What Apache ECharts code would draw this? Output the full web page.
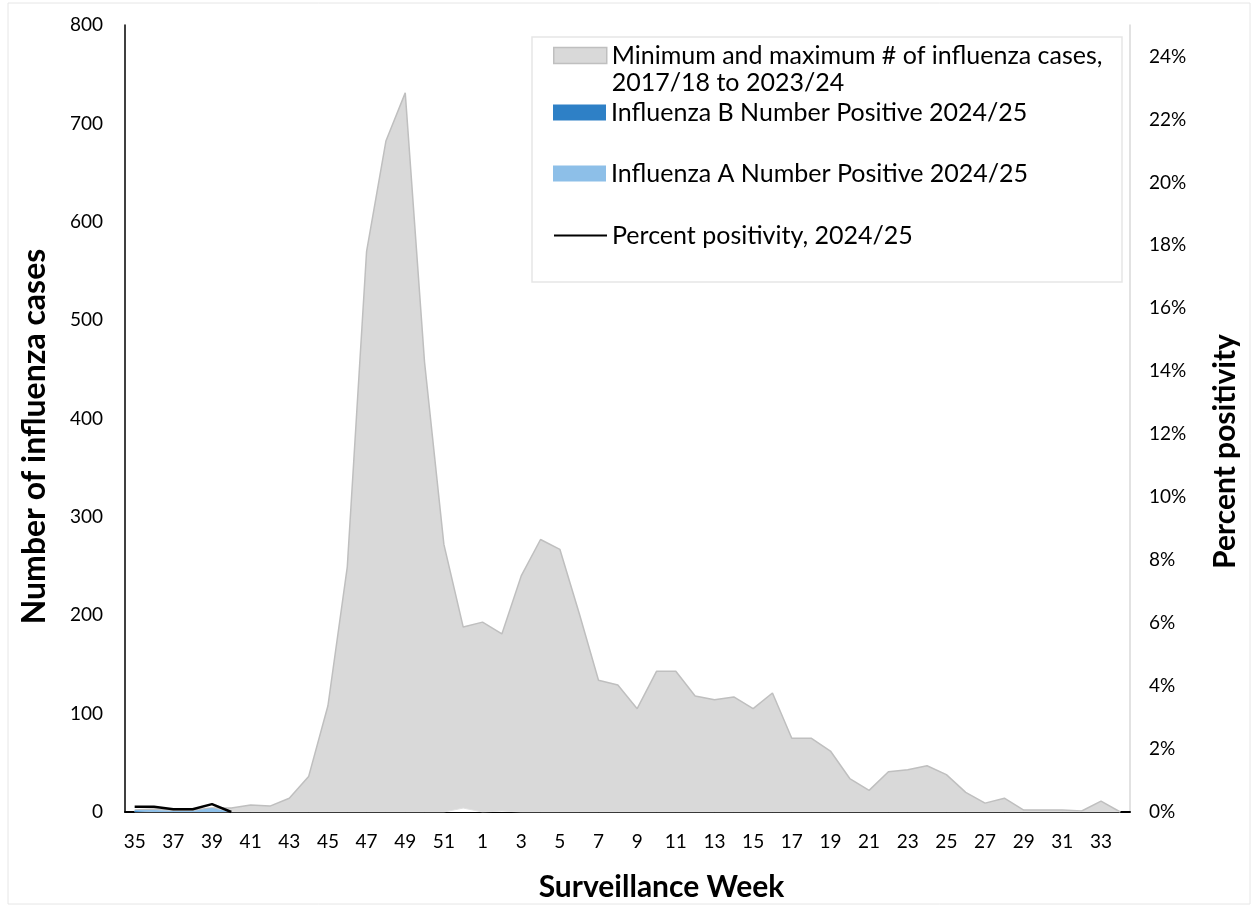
<!DOCTYPE html>
<html>
<head>
<meta charset="utf-8">
<script src="https://cdn.jsdelivr.net/npm/echarts@6/dist/echarts.min.js"></script>
<style>
  html, body { margin: 0; padding: 0; background: #fff; }
  #chart-container { width: 1252px; height: 907px; }
</style>
</head>
<body>
<div id="chart-container"></div>
<script>
// semanas de vigilancia (35 a 52, luego 1 a 34)
const semanas = ['35','36','37','38','39','40','41','42','43','44','45','46','47','48','49','50','51','52',
  '1','2','3','4','5','6','7','8','9','10','11','12','13','14','15','16','17','18','19','20',
  '21','22','23','24','25','26','27','28','29','30','31','32','33','34'];

// maximo historico 2017/18 a 2023/24
const maximos = [2, 3, 2, 2, 4, 4, 7, 6, 14, 36, 108, 249, 570, 682, 731, 457, 272, 188,
  193, 181, 240, 277, 267, 202, 134, 129, 105, 143, 143, 118, 114, 117, 105, 121, 75, 75, 62, 34,
  22, 41, 43, 47, 38, 20, 9, 14, 2, 2, 2, 1, 11, 0];

// minimo historico
const minimos = [0, 0, 0, 0, 0, 0, 0, 0, 0, 0, 0, 0, 0, 0, 0, 0, 0, 4,
  0, 1, 0, 0, 0, 0, 0, 0, 0, 0, 0, 0, 0, 0, 0, 0, 0, 0, 0, 0,
  0, 0, 0, 0, 0, 0, 0, 0, 0, 0, 0, 0, 0, 0];

// temporada 2024/25
const fluB = [1, 0, 0, 0, 0, 0];
const fluA = [1, 2, 1, 1, 4, 0];
const positividad = [0.17, 0.17, 0.09, 0.09, 0.25, 0];

const nombreRango = 'Minimum and maximum # of influenza cases, 2017/18 to 2023/24';
const nombreB = 'Influenza B Number Positive 2024/25';
const nombreA = 'Influenza A Number Positive 2024/25';
const nombreLinea = 'Percent positivity, 2024/25';

let myChart = echarts.init(document.getElementById('chart-container'), null, { renderer: 'canvas' });

const fuente = 'Lato, "Open Sans", sans-serif';
const textoLeyenda = { fontFamily: fuente, fontSize: 25, color: '#000', lineHeight: 27 };
const textoEje = { fontFamily: fuente, fontSize: 19, color: '#000' };

function leyenda(nombre, top, extra) {
  return Object.assign({
    show: true,
    left: 548,
    top: top,
    z: 10,
    orient: 'vertical',
    itemWidth: 53,
    itemHeight: 16,
    itemGap: 0,
    selectedMode: false,
    textStyle: textoLeyenda,
    data: [nombre]
  }, extra || {});
}

const opciones = {
  animation: false,
  backgroundColor: '#fff',
  graphic: [
    { type: 'rect', shape: { x: 8, y: 3, width: 1242, height: 901 },
      style: { fill: 'none', stroke: '#e6e6e6', lineWidth: 1 }, z: -10 },
    { type: 'rect', shape: { x: 532, y: 37, width: 590, height: 245 },
      style: { fill: '#fff', stroke: '#e6e6e6', lineWidth: 1.5 }, z: 3 }
  ],
  legend: [
    leyenda(nombreRango, 10, {
      // linea vacia arriba para que el icono quede a la altura de la primera linea
      formatter: () => ' \nMinimum and maximum # of influenza cases,\n2017/18 to 2023/24',
      data: [{ name: nombreRango, icon: 'rect', itemStyle: { color: '#d9d9d9', borderColor: '#bfbfbf', borderWidth: 1.5 } }]
    }),
    leyenda(nombreB, 94, {
      data: [{ name: nombreB, icon: 'rect', itemStyle: { color: '#2e80c6' } }]
    }),
    leyenda(nombreA, 155, {
      data: [{ name: nombreA, icon: 'rect', itemStyle: { color: '#8dbfe8' } }]
    }),
    leyenda(nombreLinea, 217, {
      data: [{ name: nombreLinea, itemStyle: { opacity: 0 } }]
    })
  ],
  grid: { left: 125, right: 122, top: 25, bottom: 95, containLabel: false },
  xAxis: {
    type: 'category',
    data: semanas,
    boundaryGap: true,
    name: 'Surveillance Week',
    nameLocation: 'middle',
    nameGap: 60,
    nameTextStyle: { fontFamily: fuente, fontSize: 30, fontWeight: 'bold', color: '#000', padding: [0, 0, 0, 68] },
    axisLine: { lineStyle: { color: '#000', width: 2 } },
    axisTick: { show: false },
    axisLabel: Object.assign({ interval: 1, margin: 20 }, textoEje),
    splitLine: { show: false }
  },
  yAxis: [
    {
      type: 'value',
      min: 0,
      max: 800,
      interval: 100,
      name: 'Number of influenza cases',
      nameLocation: 'middle',
      nameRotate: 90,
      nameGap: 74,
      nameTextStyle: { fontFamily: fuente, fontSize: 32, fontWeight: 'bold', color: '#000', padding: [0, 36, 0, 0] },
      axisLine: { show: true, lineStyle: { color: '#000', width: 1.5 } },
      axisTick: { show: false },
      axisLabel: Object.assign({ margin: 22 }, textoEje),
      splitLine: { show: false }
    },
    {
      type: 'value',
      min: 0,
      max: 25,
      interval: 2,
      position: 'right',
      name: 'Percent positivity',
      nameLocation: 'middle',
      nameRotate: 90,
      nameGap: 80,
      nameTextStyle: { fontFamily: fuente, fontSize: 30, fontWeight: 'bold', color: '#000', padding: [0, 66, 0, 0] },
      axisLine: { show: true, lineStyle: { color: '#d9d9d9', width: 1.5 } },
      axisTick: { show: false },
      axisLabel: Object.assign({
        margin: 19,
        showMaxLabel: false,
        formatter: (v) => (v > 24 ? '' : v + '%')
      }, textoEje),
      splitLine: { show: false }
    }
  ],
  series: [
    {
      name: nombreRango,
      type: 'line',
      data: maximos,
      symbol: 'none',
      lineStyle: { color: '#bfbfbf', width: 1.5 },
      itemStyle: { color: '#d9d9d9' },
      areaStyle: { color: '#d9d9d9', opacity: 1 },
      z: 1
    },
    {
      name: 'minimo',
      type: 'line',
      data: minimos,
      symbol: 'none',
      lineStyle: { color: '#e0e0e0', width: 1 },
      areaStyle: { color: '#fff', opacity: 1 },
      z: 2
    },
    {
      name: nombreB,
      type: 'line',
      stack: 'positivos',
      data: fluB,
      symbol: 'none',
      lineStyle: { width: 0 },
      itemStyle: { color: '#2e80c6' },
      areaStyle: { color: '#2e80c6', opacity: 1 },
      z: 3
    },
    {
      name: nombreA,
      type: 'line',
      stack: 'positivos',
      data: fluA,
      symbol: 'none',
      lineStyle: { width: 0 },
      itemStyle: { color: '#8dbfe8' },
      areaStyle: { color: '#8dbfe8', opacity: 1 },
      z: 3
    },
    {
      name: nombreLinea,
      type: 'line',
      yAxisIndex: 1,
      data: positividad,
      symbol: 'none',
      lineStyle: { color: '#000', width: 2.5 },
      itemStyle: { color: '#000' },
      z: 4
    }
  ]
};

myChart.setOption(opciones, true);
window.addEventListener('resize', myChart.resize);
</script>
</body>
</html>
